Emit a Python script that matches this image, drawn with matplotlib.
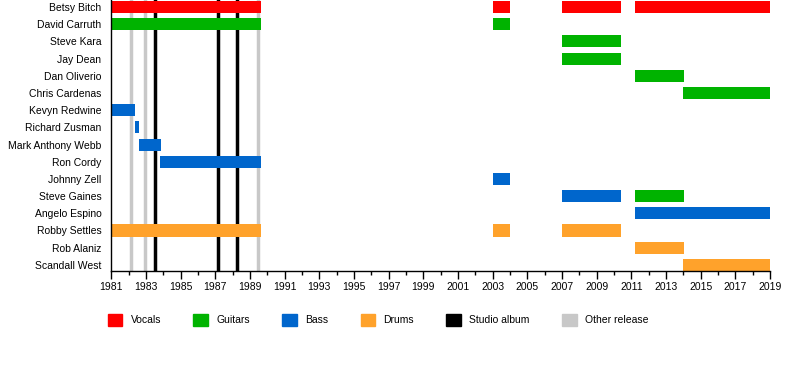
import matplotlib
matplotlib.use("Agg")
import matplotlib.pyplot as plt
from matplotlib.patches import Patch

plt.rcParams['font.family'] = ['Liberation Sans', 'DejaVu Sans']

members = ["Betsy Bitch", "David Carruth", "Steve Kara", "Jay Dean", "Dan Oliverio",
           "Chris Cardenas", "Kevyn Redwine", "Richard Zusman", "Mark Anthony Webb",
           "Ron Cordy", "Johnny Zell", "Steve Gaines", "Angelo Espino", "Robby Settles",
           "Rob Alaniz", "Scandall West"]

# (member, start, end, role)
spans = [
    ("Betsy Bitch", 1981.0, 1989.65, "Vocals"),
    ("Betsy Bitch", 2003.0, 2004.0, "Vocals"),
    ("Betsy Bitch", 2007.0, 2010.4, "Vocals"),
    ("Betsy Bitch", 2011.2, 2019.0, "Vocals"),
    ("David Carruth", 1981.0, 1989.65, "Guitars"),
    ("David Carruth", 2003.0, 2004.0, "Guitars"),
    ("Steve Kara", 2007.0, 2010.4, "Guitars"),
    ("Jay Dean", 2007.0, 2010.4, "Guitars"),
    ("Dan Oliverio", 2011.2, 2014.05, "Guitars"),
    ("Chris Cardenas", 2014.0, 2019.0, "Guitars"),
    ("Kevyn Redwine", 1981.0, 1982.4, "Bass"),
    ("Richard Zusman", 1982.35, 1982.6, "Bass"),
    ("Mark Anthony Webb", 1982.6, 1983.9, "Bass"),
    ("Ron Cordy", 1983.8, 1989.65, "Bass"),
    ("Johnny Zell", 2003.0, 2004.0, "Bass"),
    ("Steve Gaines", 2007.0, 2010.4, "Bass"),
    ("Steve Gaines", 2011.2, 2014.05, "Guitars"),
    ("Angelo Espino", 2011.2, 2019.0, "Bass"),
    ("Robby Settles", 1981.0, 1989.65, "Drums"),
    ("Robby Settles", 2003.0, 2004.0, "Drums"),
    ("Robby Settles", 2007.0, 2010.4, "Drums"),
    ("Rob Alaniz", 2011.2, 2014.05, "Drums"),
    ("Scandall West", 2014.0, 2019.0, "Drums"),
]

studio_albums = [1983.54, 1987.17, 1988.27]
other_releases = [1982.15, 1982.95, 1989.48]

role_colors = {"Vocals": "#ff0000", "Guitars": "#00b300", "Bass": "#0066cc", "Drums": "#ffa22b"}
studio_color = "#000000"
other_color = "#c8c8c8"

fig = plt.figure(figsize=(8, 3.9), dpi=100)
ax = fig.add_axes([0.139, 0.305, 0.8235, 0.695])

for x in other_releases:
    ax.axvline(x, color=other_color, lw=2.5, zorder=1)
for x in studio_albums:
    ax.axvline(x, color=studio_color, lw=2.5, zorder=1)

for name, start, end, role in spans:
    ax.barh(members.index(name), end - start, left=start, height=0.7,
            color=role_colors[role], zorder=2)

ax.set_xlim(1981, 2019)
ax.set_ylim(15.36, -0.41)
ax.set_yticks(range(len(members)))
ax.set_yticklabels(members, fontsize=7.5)
ax.tick_params(axis='y', length=0, pad=7)
ax.set_xticks(range(1981, 2020, 2))
ax.set_xticks(range(1981, 2020), minor=True)
ax.tick_params(axis='x', which='major', length=6, width=1, labelsize=7.5, pad=2)
ax.tick_params(axis='x', which='minor', length=3, width=1)
for side in ["top", "right"]:
    ax.spines[side].set_visible(False)
ax.spines["left"].set_linewidth(1)
ax.spines["bottom"].set_linewidth(1)

handles = [Patch(color=role_colors[r], label=r) for r in ["Vocals", "Guitars", "Bass", "Drums"]]
handles.append(Patch(color=studio_color, label="Studio album"))
handles.append(Patch(color=other_color, label="Other release"))
fig.legend(handles=handles, loc="center left", bbox_to_anchor=(0.123, 0.18), ncol=6,
           frameon=False, fontsize=7.5, handlelength=1.4, handleheight=1.4,
           handletextpad=0.8, columnspacing=3.1)

fig.savefig("out.png", dpi=100)
